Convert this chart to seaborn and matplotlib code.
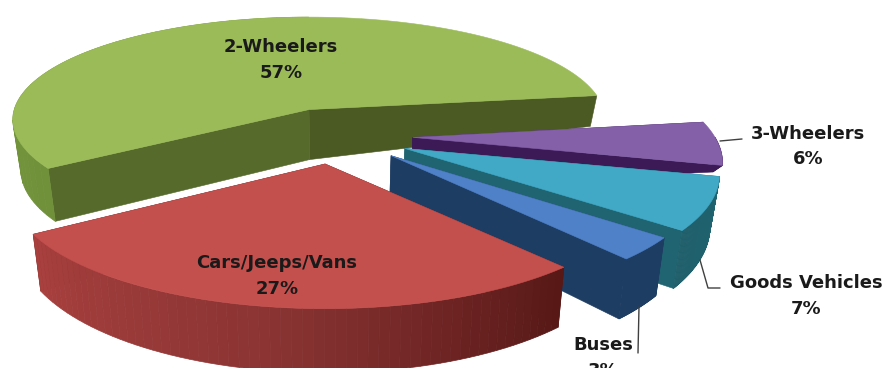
import matplotlib
matplotlib.use("Agg")
import matplotlib.pyplot as plt
import numpy as np
import seaborn as sns

# counter-clockwise from the start angle
VEHICLES = ["2-Wheelers", "Cars/Jeeps/Vans", "Buses", "Goods Vehicles", "3-Wheelers"]
SHARES = [57, 27, 3, 7, 6]

START_ANGLE = 8.0
EXPLODE = 0.25
HUB_X, HUB_Y = 336, 136
RADIUS_X, RADIUS_Y = 307, 113
DEPTH = 50
DROP_SHRINK = 0.975

TOP_COLORS = ["#9BBB59", "#C4504E", "#4F81C8", "#41A9C6", "#8460A8"]
WALL_COLORS = ["#556A2B", "#5A1A18", "#1D3D63", "#1F6470", "#3B1A55"]
WALL_END_COLORS = ["#4B5923", "#5A1A18", "#1D3D63", "#1F6470", "#3B1A55"]
RIM_COLORS = [
    ["#8AAB4C", "#7F9F45", "#70903A"],
    ["#A8403E", "#8A3433", "#571816"],
    ["#1D3D63", "#1D3D63"],
    ["#1F5F6B", "#1F6470"],
    ["#3B1A55", "#3B1A55"],
]
PERSPECTIVE = [0.10, 0.219, 0.219, 0.219, 0.219]
DEPTH_TAPER = [0.38, 0, 0, 0, 0.9]
SCALE_X = [0.96, 1.0, 0.985, 1.0, 0.985]
SCALE_Y = [0.90, 1.0, 1.0, 1.0, 1.0]
DRAW_ORDER = [0, 4, 3, 2, 1]

LABEL_X = [281, 277, 603, 806, 808]
LABEL_Y = [47, 263, 345, 283, 134]
LEADERS = {
    "Buses": ([639, 638], [307, 353]),
    "Goods Vehicles": ([700, 708, 720], [260, 288, 288]),
    "3-Wheelers": ([720, 742], [141, 139]),
}


def project(angle, radius, apex_x, apex_y, idx, drop=False):
    u = radius * np.cos(np.radians(angle))
    v = radius * np.sin(np.radians(angle))
    den = 1 + PERSPECTIVE[idx] * v
    x = apex_x + SCALE_X[idx] * RADIUS_X * u / den
    y = apex_y - SCALE_Y[idx] * RADIUS_Y * v / den
    if drop:
        y = y + DEPTH / den * (1 - DEPTH_TAPER[idx] * np.maximum(u, 0))
        x = HUB_X + (x - HUB_X) * DROP_SHRINK
    return x, y


def draw_wall(ax, angle, apex_x, apex_y, idx, color):
    rr = np.linspace(0, 1, 12)
    x0, y0 = project(angle, rr, apex_x, apex_y, idx)
    x1, y1 = project(angle, rr, apex_x, apex_y, idx, drop=True)
    ax.fill(np.r_[x0, x1[::-1]], np.r_[y0, y1[::-1]], color=color, lw=0.4)


def draw_slice(ax, idx, start, stop):
    mid = np.radians((start + stop) / 2)
    apex_x = HUB_X + RADIUS_X * EXPLODE * np.cos(mid)
    apex_y = HUB_Y - RADIUS_Y * EXPLODE * np.sin(mid)

    draw_wall(ax, start, apex_x, apex_y, idx, WALL_END_COLORS[idx])
    draw_wall(ax, stop, apex_x, apex_y, idx, WALL_COLORS[idx])

    # rim split up so the shading can run along it, back right part never shows
    n_seg = 60
    angles = np.linspace(start, stop, n_seg + 1)
    shades = sns.blend_palette(RIM_COLORS[idx], n_seg)
    for a0, a1, shade in zip(angles[:-1], angles[1:], shades):
        seg_mid = np.radians((a0 + a1) / 2)
        if np.sin(seg_mid) > 0 and np.cos(seg_mid) > 0:
            continue
        seg = np.linspace(a0, a1, 3)
        x0, y0 = project(seg, 1.0, apex_x, apex_y, idx)
        x1, y1 = project(seg, 1.0, apex_x, apex_y, idx, drop=True)
        ax.fill(np.r_[x0, x1[::-1]], np.r_[y0, y1[::-1]], color=shade, lw=0.5)

    arc = np.linspace(start, stop, 200)
    x, y = project(arc, 1.0, apex_x, apex_y, idx)
    ax.fill(np.r_[apex_x, x], np.r_[apex_y, y], color=TOP_COLORS[idx], lw=0.4)


def main():
    sns.set_theme(style="white")
    plt.rcParams["font.family"] = ["DejaVu Sans"]

    fig = plt.figure(figsize=(8.92, 3.68), dpi=100)
    ax = fig.add_axes([0, 0, 1, 1])
    ax.set_xlim(0, 892)
    ax.set_ylim(368, 0)
    ax.axis("off")

    edges = START_ANGLE + np.r_[0, np.cumsum(SHARES)] * 3.6
    for idx in DRAW_ORDER:
        draw_slice(ax, idx, edges[idx], edges[idx + 1])

    for xs, ys in LEADERS.values():
        ax.plot(xs, ys, color="#404040", lw=1.0)

    for name, share, x, y in zip(VEHICLES, SHARES, LABEL_X, LABEL_Y):
        ax.text(x, y, name, ha="center", va="center", fontsize=13,
                fontweight="bold", color="#1a1a1a")
        ax.text(x, y + 25.5, f"{share}%", ha="center", va="center", fontsize=13,
                fontweight="bold", color="#1a1a1a")

    fig.savefig("out.png", dpi=100)


if __name__ == "__main__":
    main()
